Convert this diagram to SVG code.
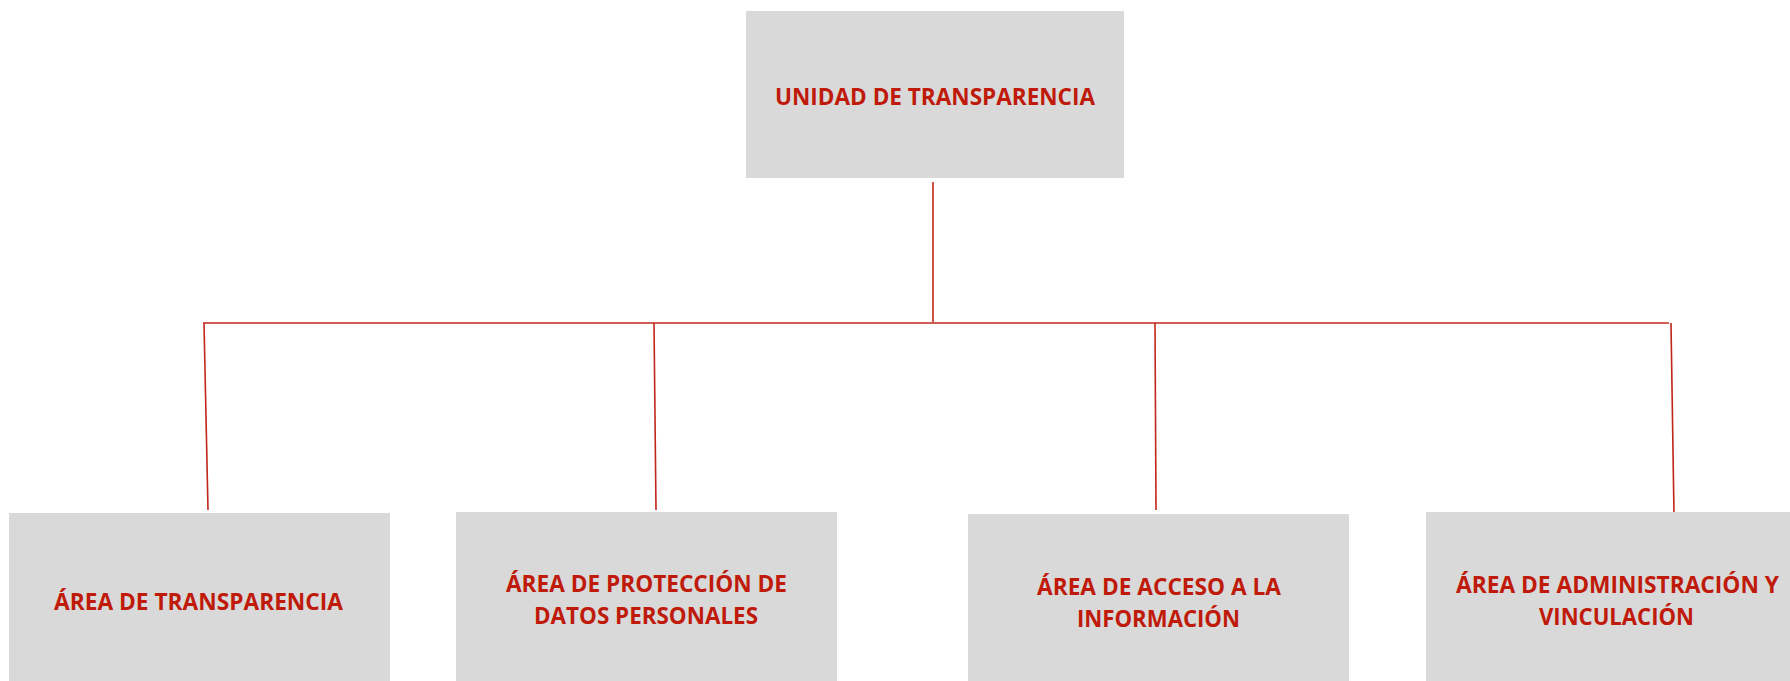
<svg xmlns="http://www.w3.org/2000/svg" width="1790" height="681" viewBox="0 0 1790 681">
<style>
.box{fill:#d9d9d9}
.lbl{font-family:"Open Sans","Liberation Sans",sans-serif;font-weight:700;font-size:23px;fill:#bf1a0a}
.ln{stroke:#c0261a;stroke-width:1.6;fill:none}
</style>
<rect width="1790" height="681" fill="#ffffff"/>
<g id="connectors">
<line class="ln" x1="933" y1="182" x2="933" y2="322"/>
<line class="ln" x1="203" y1="323" x2="1669" y2="323"/>
<line class="ln" x1="204" y1="323" x2="208" y2="510"/>
<line class="ln" x1="654" y1="323" x2="656" y2="510"/>
<line class="ln" x1="1155" y1="323" x2="1156" y2="510"/>
<line class="ln" x1="1671" y1="323" x2="1674" y2="515"/>
</g>
<g id="unidad">
<rect class="box" x="746" y="11" width="378" height="167"/>
<text class="lbl" x="775" y="105" textLength="320" lengthAdjust="spacingAndGlyphs">UNIDAD DE TRANSPARENCIA</text>
</g>
<g id="transparencia">
<rect class="box" x="9" y="513" width="381" height="168"/>
<text class="lbl" x="54" y="610" textLength="289" lengthAdjust="spacingAndGlyphs">ÁREA DE TRANSPARENCIA</text>
</g>
<g id="proteccion">
<rect class="box" x="456" y="512" width="381" height="169"/>
<text class="lbl" x="506" y="592" textLength="281" lengthAdjust="spacingAndGlyphs">ÁREA DE PROTECCIÓN DE</text>
<text class="lbl" x="534" y="624" textLength="224" lengthAdjust="spacingAndGlyphs">DATOS PERSONALES</text>
</g>
<g id="acceso">
<rect class="box" x="968" y="514" width="381" height="167"/>
<text class="lbl" x="1037" y="595" textLength="244" lengthAdjust="spacingAndGlyphs">ÁREA DE ACCESO A LA</text>
<text class="lbl" x="1077" y="627" textLength="163" lengthAdjust="spacingAndGlyphs">INFORMACIÓN</text>
</g>
<g id="administracion">
<rect class="box" x="1426" y="512" width="364" height="169"/>
<text class="lbl" x="1456" y="593" textLength="323" lengthAdjust="spacingAndGlyphs">ÁREA DE ADMINISTRACIÓN Y</text>
<text class="lbl" x="1539" y="625" textLength="155" lengthAdjust="spacingAndGlyphs">VINCULACIÓN</text>
</g>
</svg>
